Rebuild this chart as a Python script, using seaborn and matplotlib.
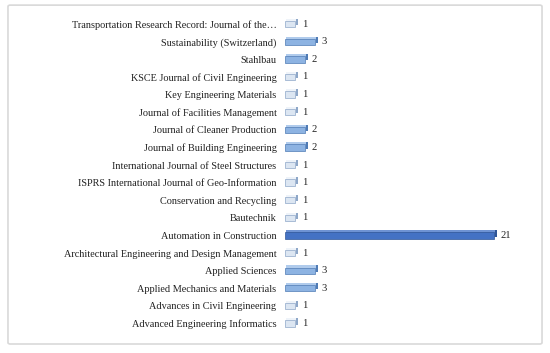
import matplotlib
matplotlib.use("Agg")
import matplotlib.pyplot as plt
import matplotlib.patheffects as pe
from matplotlib.patches import FancyBboxPatch
import seaborn as sns
import pandas as pd

journals = [
    "Transportation Research Record: Journal of the\u2026",
    "Sustainability (Switzerland)",
    "Stahlbau",
    "KSCE Journal of Civil Engineering",
    "Key Engineering Materials",
    "Journal of Facilities Management",
    "Journal of Cleaner Production",
    "Journal of Building Engineering",
    "International Journal of Steel Structures",
    "ISPRS International Journal of Geo-Information",
    "Conservation and Recycling",
    "Bautechnik",
    "Automation in Construction",
    "Architectural Engineering and Design Management",
    "Applied Sciences",
    "Applied Mechanics and Materials",
    "Advances in Civil Engineering",
    "Advanced Engineering Informatics",
]
counts = [1, 3, 2, 1, 1, 1, 2, 2, 1, 1, 1, 1, 21, 1, 3, 3, 1, 1]

df = pd.DataFrame({"journal": journals, "count": counts})

def color_for(v):
    if v >= 10:
        return "#4472c4"
    if v >= 2:
        return "#8db3e2"
    return "#dce6f2"

def side_for(v):
    if v >= 10:
        return "#2f5597"
    if v >= 2:
        return "#4f7bb5"
    return "#8ea7c8"

def top_for(v):
    if v >= 10:
        return "#6f93d3"
    if v >= 2:
        return "#b0cbec"
    return "#eef3f9"

palette = {j: color_for(c) for j, c in zip(journals, counts)}

sns.set_theme(style="white")
plt.rcParams["font.family"] = ["Liberation Serif", "DejaVu Serif"]

fig = plt.figure(figsize=(5.5, 3.53), dpi=100)
border = FancyBboxPatch((0.0145, 0.0255), 0.971, 0.960,
                        boxstyle="round,pad=0,rounding_size=0.004",
                        transform=fig.transFigure, facecolor="none",
                        edgecolor="#d9d9d9", linewidth=1.2, zorder=-1)
fig.patches.append(border)

ax = fig.add_axes([0.518, 0.0585, 0.443, 0.898])
ax.set_zorder(2)
ax.set_facecolor("none")
sns.barplot(data=df, y="journal", x="count", hue="journal", palette=palette,
            orient="h", width=0.36, legend=False, ax=ax, saturation=1,
            linewidth=0.5)

for p, c in zip(ax.patches, counts):
    p.set_edgecolor(side_for(c))
    p.set_path_effects([
        pe.SimplePatchShadow(offset=(2.0, 1.5), shadow_rgbFace=side_for(c), alpha=1.0),
        pe.SimplePatchShadow(offset=(0.6, 1.5), shadow_rgbFace=top_for(c), alpha=1.0),
        pe.Normal(),
    ])

for i, c in enumerate(counts):
    ax.text(c + 0.7, i, str(c), va="center", ha="left", fontsize=7.6, color="#222222")

ax.set_xlim(0, 24.5)
ax.set_ylim(len(journals) - 0.5, -0.5)
ax.set_xlabel("")
ax.set_ylabel("")
ax.set_xticks([])
ax.tick_params(axis="y", length=0, pad=6, labelsize=7.4, labelcolor="#222222")
for s in ax.spines.values():
    s.set_visible(False)

fig.savefig("out.png", dpi=100)
